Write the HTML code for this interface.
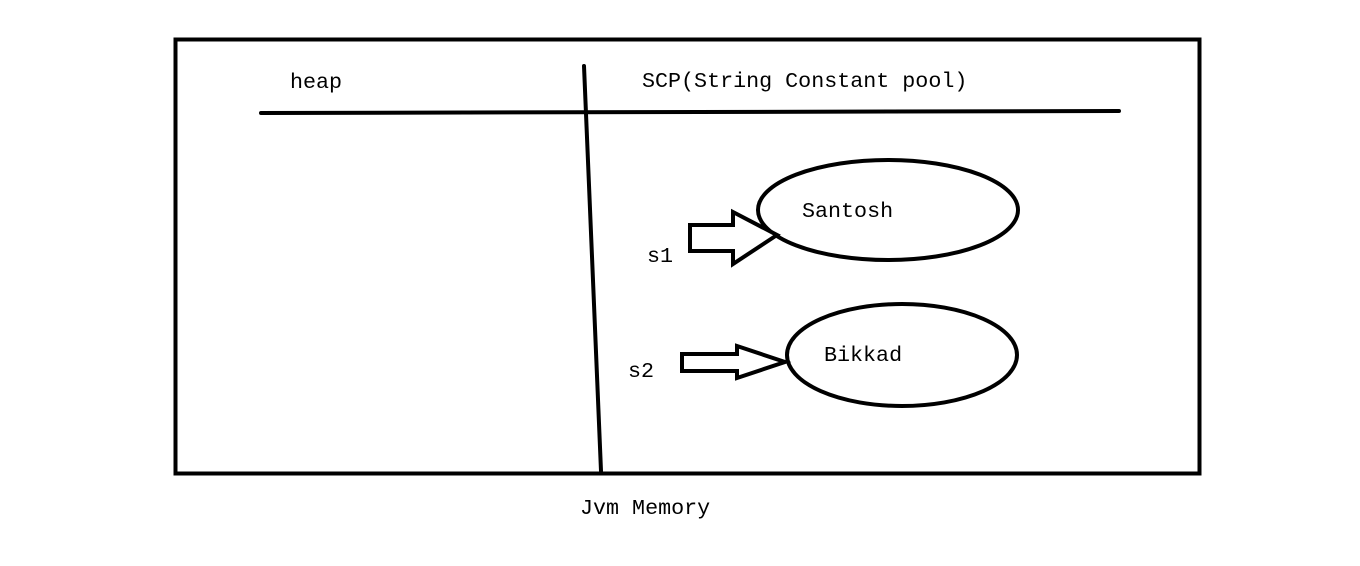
<!DOCTYPE html>
<html><head><meta charset="utf-8"><style>
html,body{margin:0;padding:0;background:#fff;}
svg{display:block;}
text{font-family:"Liberation Mono",monospace;font-size:21.7px;fill:#000;}
</style></head><body>
<svg width="1360" height="566" viewBox="0 0 1360 566" xmlns="http://www.w3.org/2000/svg">
<rect x="175.5" y="39.5" width="1024" height="434" fill="none" stroke="#000" stroke-width="4"/>
<line x1="261" y1="113" x2="1119" y2="111" stroke="#000" stroke-width="4" stroke-linecap="round"/>
<line x1="584" y1="66" x2="601" y2="471" stroke="#000" stroke-width="4" stroke-linecap="round"/>
<text x="290" y="88">heap</text>
<text x="642" y="87">SCP(String Constant pool)</text>
<ellipse cx="888" cy="210" rx="130" ry="50" fill="none" stroke="#000" stroke-width="4"/>
<ellipse cx="902" cy="355" rx="115" ry="51" fill="none" stroke="#000" stroke-width="4"/>
<polygon points="690,225 733,225 733,212 777,235 733,264 733,251 690,251" fill="#fff" stroke="#000" stroke-width="4"/>
<polygon points="682,354 737,354 737,346 785,362 737,378 737,371 682,371" fill="#fff" stroke="#000" stroke-width="4"/>
<text x="802" y="217">Santosh</text>
<text x="824" y="361">Bikkad</text>
<text x="647" y="262">s1</text>
<text x="628" y="377">s2</text>
<text x="580" y="514">Jvm Memory</text>
</svg>
</body></html>
